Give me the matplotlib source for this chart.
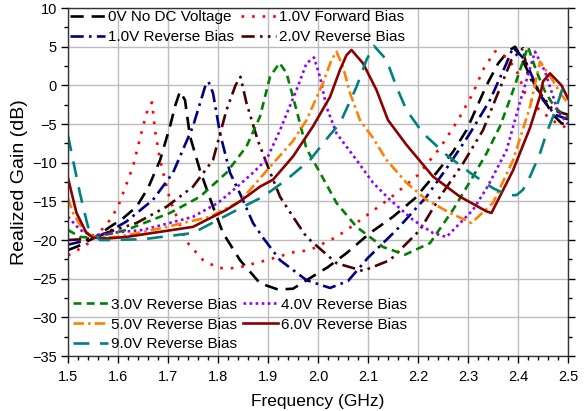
import matplotlib
matplotlib.use("Agg")
import matplotlib.pyplot as plt
from matplotlib.ticker import MultipleLocator, FormatStrFormatter

plt.rcParams['font.family'] = ['Liberation Sans', 'DejaVu Sans']

# ---- data ----
f_0v = [1.50, 1.52, 1.55, 1.584, 1.61, 1.637, 1.66, 1.684, 1.704, 1.715, 1.724, 1.734, 1.744, 1.764, 1.79, 1.81, 1.844, 1.884, 1.92, 1.95, 1.977, 2.02, 2.057, 2.104, 2.15, 2.194, 2.237, 2.27, 2.297, 2.337, 2.36, 2.38, 2.394, 2.404, 2.42, 2.437, 2.454, 2.47, 2.487, 2.50]
g_0v = [-21.3, -20.8, -19.8, -18.3, -17.2, -15.7, -13.3, -9.7, -5.3, -2.5, -0.8, -1.9, -6.6, -11.0, -15.7, -19.1, -22.6, -25.6, -26.4, -26.3, -25.2, -23.5, -21.7, -19.1, -17.0, -14.6, -11.3, -8.6, -5.8, 0.0, 2.8, 4.4, 5.0, 3.9, 1.8, -0.35, -2.1, -3.8, -4.9, -5.2]

f_1fwd = [1.50, 1.53, 1.55, 1.584, 1.60, 1.63, 1.65, 1.66, 1.668, 1.674, 1.684, 1.704, 1.737, 1.77, 1.80, 1.82, 1.845, 1.898, 1.95, 1.984, 2.037, 2.064, 2.10, 2.144, 2.20, 2.244, 2.28, 2.31, 2.33, 2.354, 2.38, 2.40, 2.414, 2.44, 2.47, 2.50]
g_1fwd = [-22.0, -20.9, -20.0, -17.4, -15.7, -10.5, -5.3, -3.0, -2.2, -5.8, -9.65, -14.8, -20.2, -22.6, -23.6, -23.7, -23.5, -22.6, -21.6, -21.3, -19.6, -18.4, -16.7, -14.6, -11.6, -8.1, -4.5, -1.0, 2.0, 4.4, 3.5, 1.5, -1.0, -3.0, -4.6, -5.6]

f_1rev = [1.50, 1.52, 1.55, 1.58, 1.617, 1.67, 1.71, 1.75, 1.774, 1.781, 1.79, 1.804, 1.824, 1.844, 1.87, 1.89, 1.924, 1.977, 2.024, 2.06, 2.10, 2.157, 2.217, 2.264, 2.304, 2.344, 2.377, 2.39, 2.414, 2.434, 2.45, 2.474, 2.50]
g_1rev = [-20.6, -20.3, -19.8, -19.0, -17.6, -14.8, -11.3, -5.3, -0.2, 0.47, -1.0, -6.2, -11.3, -14.0, -17.8, -19.7, -22.6, -25.2, -26.2, -25.3, -22.3, -18.7, -14.4, -10.1, -6.2, -1.9, 2.85, 4.9, 3.3, 0.3, -1.9, -3.8, -4.4]

f_2rev = [1.50, 1.53, 1.55, 1.58, 1.637, 1.697, 1.75, 1.79, 1.817, 1.835, 1.845, 1.857, 1.88, 1.904, 1.924, 1.95, 1.977, 2.037, 2.09, 2.144, 2.204, 2.244, 2.29, 2.33, 2.36, 2.387, 2.41, 2.42, 2.447, 2.47, 2.50]
g_2rev = [-20.0, -19.9, -19.7, -19.0, -17.8, -15.7, -13.1, -9.65, -3.2, 0.0, 1.1, -2.3, -7.2, -11.2, -14.4, -17.0, -19.6, -23.0, -24.0, -22.6, -18.7, -14.4, -10.1, -5.8, -1.0, 3.3, 4.8, 1.3, -1.25, -3.2, -3.8]

f_3rev = [1.50, 1.524, 1.55, 1.617, 1.704, 1.764, 1.817, 1.857, 1.884, 1.904, 1.923, 1.937, 1.957, 1.977, 2.004, 2.037, 2.077, 2.13, 2.174, 2.224, 2.27, 2.31, 2.337, 2.364, 2.387, 2.42, 2.437, 2.454, 2.474, 2.50]
g_3rev = [-18.7, -19.6, -19.7, -18.7, -16.5, -14.4, -11.3, -7.9, -4.05, 1.1, 2.9, 1.6, -3.2, -8.2, -11.3, -15.2, -18.3, -20.9, -21.9, -20.4, -16.1, -11.8, -8.8, -5.3, -1.25, 5.0, 1.8, -0.8, -2.9, -4.2]

f_4rev = [1.50, 1.524, 1.55, 1.60, 1.65, 1.75, 1.80, 1.844, 1.87, 1.897, 1.924, 1.957, 1.977, 1.992, 2.004, 2.017, 2.037, 2.077, 2.11, 2.144, 2.19, 2.23, 2.257, 2.31, 2.34, 2.377, 2.407, 2.434, 2.454, 2.467, 2.48, 2.50]
g_4rev = [-17.0, -18.7, -19.4, -19.0, -18.7, -17.0, -15.2, -12.8, -11.3, -9.6, -5.8, -0.6, 2.85, 3.6, 1.1, -2.8, -6.2, -9.65, -12.6, -14.8, -17.4, -19.1, -19.6, -16.1, -13.0, -8.4, -1.5, 4.35, 1.8, -0.8, -3.4, -5.0]

f_5rev = [1.50, 1.51, 1.53, 1.543, 1.56, 1.60, 1.684, 1.784, 1.844, 1.91, 1.95, 1.977, 2.01, 2.027, 2.037, 2.05, 2.064, 2.084, 2.11, 2.137, 2.177, 2.217, 2.264, 2.307, 2.35, 2.39, 2.424, 2.444, 2.467, 2.487, 2.50]
g_5rev = [-14.6, -16.5, -18.7, -19.3, -19.7, -19.6, -18.5, -17.0, -15.0, -10.1, -7.2, -4.5, 0.3, 3.3, 4.35, 2.4, -1.0, -4.5, -6.8, -9.65, -12.6, -14.8, -16.5, -17.8, -15.2, -9.7, -2.8, 3.05, 0.9, -1.25, -2.3]

f_6rev = [1.50, 1.517, 1.537, 1.55, 1.58, 1.617, 1.75, 1.817, 1.844, 1.884, 1.91, 1.95, 1.99, 2.024, 2.044, 2.057, 2.067, 2.09, 2.117, 2.14, 2.177, 2.23, 2.284, 2.337, 2.347, 2.39, 2.424, 2.444, 2.45, 2.464, 2.487, 2.50]
g_6rev = [-12.0, -16.5, -19.1, -19.7, -19.8, -19.6, -18.3, -16.1, -15.0, -13.1, -12.2, -9.2, -5.3, -1.5, 2.0, 3.9, 4.57, 2.85, -0.6, -4.5, -7.7, -11.8, -14.4, -16.3, -16.5, -11.0, -5.5, -1.4, 0.5, 1.55, 0.0, -1.7]

f_9rev = [1.50, 1.51, 1.524, 1.54, 1.564, 1.584, 1.65, 1.75, 1.844, 1.89, 1.937, 1.984, 2.024, 2.044, 2.077, 2.097, 2.112, 2.137, 2.157, 2.177, 2.21, 2.257, 2.304, 2.35, 2.38, 2.397, 2.41, 2.424, 2.444, 2.457, 2.474, 2.49, 2.50]
g_9rev = [-6.5, -9.65, -14.0, -18.3, -20.0, -20.0, -19.9, -19.1, -15.9, -14.4, -12.2, -9.65, -6.4, -4.9, -0.2, 3.3, 5.1, 3.3, -0.2, -3.2, -6.2, -9.0, -11.3, -13.3, -14.2, -14.2, -13.5, -11.8, -8.8, -6.2, -3.4, -0.2, 0.8]

labels = ["0V No DC Voltage", "1.0V Forward Bias", "1.0V Reverse Bias", "2.0V Reverse Bias",
          "3.0V Reverse Bias", "4.0V Reverse Bias", "5.0V Reverse Bias", "6.0V Reverse Bias",
          "9.0V Reverse Bias"]
x_ticks = [1.5, 1.6, 1.7, 1.8, 1.9, 2.0, 2.1, 2.2, 2.3, 2.4, 2.5]
y_ticks = [-35, -30, -25, -20, -15, -10, -5, 0, 5, 10]

# ---- styles ----
series = [
    (f_0v, g_0v, '#000000', (0, (5, 3))),
    (f_1fwd, g_1fwd, '#FF0000', (0, (1, 3))),
    (f_1rev, g_1rev, '#000080', (0, (5, 2, 1, 2))),
    (f_2rev, g_2rev, '#4A0000', (0, (5, 2, 1, 2, 1, 2))),
    (f_3rev, g_3rev, '#008000', (0, (3, 2))),
    (f_4rev, g_4rev, '#8B00FF', (0, (1, 1.3))),
    (f_5rev, g_5rev, '#FF8000', (0, (4, 1.5, 1, 1.5))),
    (f_6rev, g_6rev, '#8B0000', '-'),
    (f_9rev, g_9rev, '#008080', (0, (6, 4))),
]

fig = plt.figure(figsize=(5.86, 4.11), dpi=100)
ax = fig.add_axes([68/586, 1-356/411, 500/586, 348/411])

lines = []
for (fx, gy, c, ls), lab in zip(series, labels):
    ln, = ax.plot(fx, gy, color=c, linestyle=ls, linewidth=1.9, label=lab)
    lines.append(ln)

ax.set_xlim(1.5, 2.5)
ax.set_ylim(-35, 10)
ax.set_xticks(x_ticks)
ax.set_yticks(y_ticks)
ax.xaxis.set_minor_locator(MultipleLocator(0.02))
ax.yaxis.set_minor_locator(MultipleLocator(2.5))
ax.xaxis.set_major_formatter(FormatStrFormatter('%.1f'))
ax.grid(True, which='major', color='#bcbcbc', linewidth=1.0)
ax.set_axisbelow(True)
ax.tick_params(axis='both', which='major', direction='out', length=5, width=1, labelsize=10.5, colors='#000000')
ax.tick_params(axis='x', which='major', pad=5)
ax.tick_params(axis='y', which='major', pad=3)
ax.tick_params(axis='both', which='minor', direction='out', length=3, width=1)
ax.tick_params(axis='y', which='both', right=True)
for s in ax.spines.values():
    s.set_linewidth(1.0)
    s.set_color('#333333')

ax.set_xlabel("Frequency (GHz)", fontsize=12.5, labelpad=7)
ax.set_ylabel("Realized Gain (dB)", fontsize=14, labelpad=3)

leg1 = ax.legend(handles=[lines[0], lines[2], lines[1], lines[3]], ncol=2,
                 loc='upper left', bbox_to_anchor=(0.0, 1.0), frameon=False,
                 fontsize=11, handlelength=2.3, handletextpad=0.2, columnspacing=0.4,
                 labelspacing=0.38, borderaxespad=0.05, borderpad=0.1)
ax.add_artist(leg1)
leg2 = ax.legend(handles=[lines[4], lines[6], lines[8], lines[5], lines[7]], ncol=2,
                 loc='lower left', bbox_to_anchor=(0.0, 0.0), frameon=False,
                 fontsize=11, handlelength=2.3, handletextpad=0.2, columnspacing=0.4,
                 labelspacing=0.38, borderaxespad=0.2, borderpad=0.1)

fig.savefig("out.png", dpi=100)
